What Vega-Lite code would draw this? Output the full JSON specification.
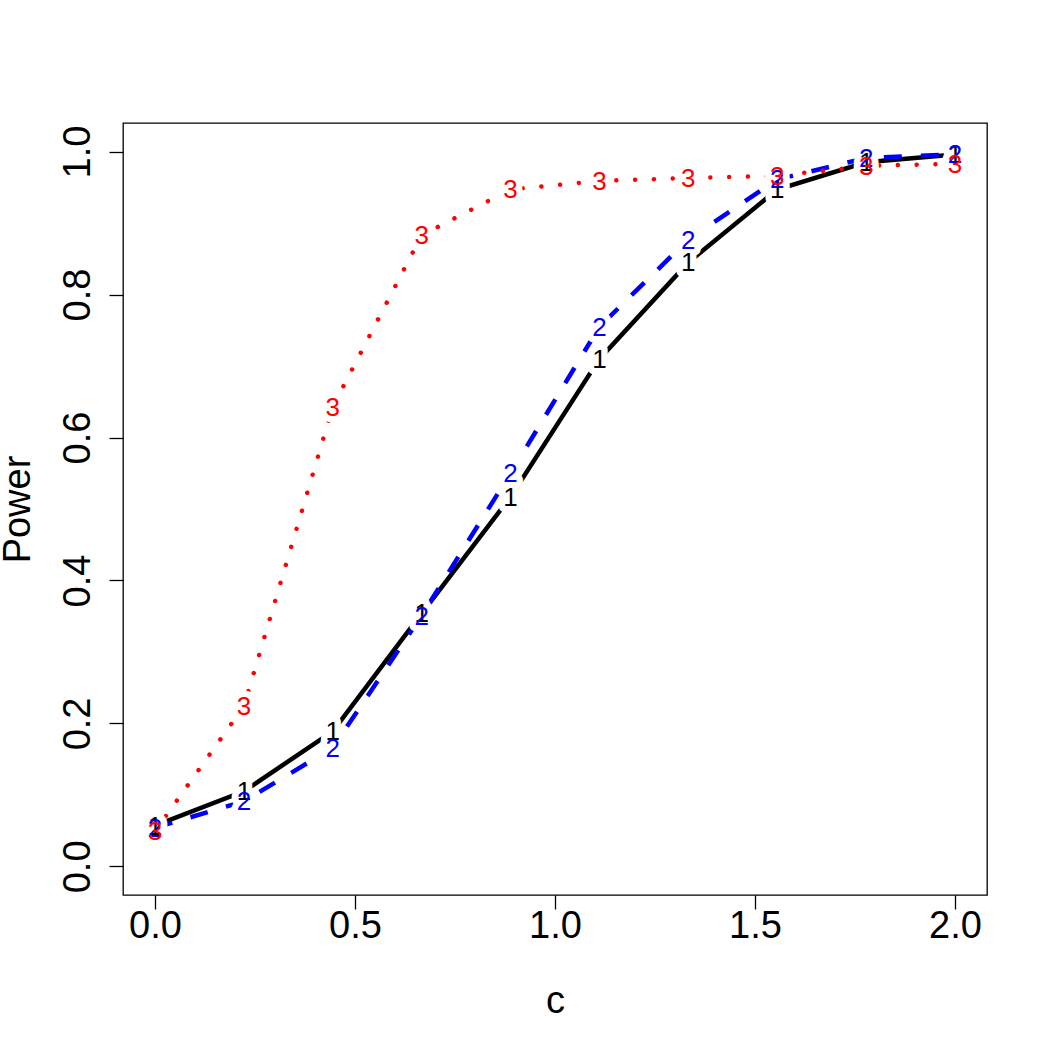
{
  "$schema": "https://vega.github.io/schema/vega-lite/v6.json",
  "width": 864,
  "height": 772,
  "autosize": {"type": "none"},
  "padding": {"left": 123, "top": 123, "right": 63, "bottom": 155},
  "background": "white",
  "config": {
    "view": {"stroke": "black", "strokeWidth": 1.3},
    "axis": {
      "domain": false,
      "grid": false,
      "tickColor": "black",
      "tickWidth": 1.3,
      "tickSize": 14,
      "labelColor": "black",
      "labelFont": "Liberation Sans",
      "labelFontSize": 38,
      "titleFont": "Liberation Sans",
      "titleFontSize": 38,
      "titleFontWeight": "normal",
      "titleColor": "black"
    }
  },
  "data": {
    "values": [
      {"c": 0, "power": 0.057, "series": "1"},
      {"c": 0.2222, "power": 0.105, "series": "1"},
      {"c": 0.4444, "power": 0.189, "series": "1"},
      {"c": 0.6667, "power": 0.354, "series": "1"},
      {"c": 0.8889, "power": 0.517, "series": "1"},
      {"c": 1.1111, "power": 0.710, "series": "1"},
      {"c": 1.3333, "power": 0.845, "series": "1"},
      {"c": 1.5556, "power": 0.947, "series": "1"},
      {"c": 1.7778, "power": 0.985, "series": "1"},
      {"c": 2.0, "power": 0.996, "series": "1"},
      {"c": 0, "power": 0.054, "series": "2"},
      {"c": 0.2222, "power": 0.091, "series": "2"},
      {"c": 0.4444, "power": 0.166, "series": "2"},
      {"c": 0.6667, "power": 0.351, "series": "2"},
      {"c": 0.8889, "power": 0.550, "series": "2"},
      {"c": 1.1111, "power": 0.755, "series": "2"},
      {"c": 1.3333, "power": 0.877, "series": "2"},
      {"c": 1.5556, "power": 0.961, "series": "2"},
      {"c": 1.7778, "power": 0.991, "series": "2"},
      {"c": 2.0, "power": 0.996, "series": "2"},
      {"c": 0, "power": 0.049, "series": "3"},
      {"c": 0.2222, "power": 0.224, "series": "3"},
      {"c": 0.4444, "power": 0.643, "series": "3"},
      {"c": 0.6667, "power": 0.883, "series": "3"},
      {"c": 0.8889, "power": 0.947, "series": "3"},
      {"c": 1.1111, "power": 0.959, "series": "3"},
      {"c": 1.3333, "power": 0.963, "series": "3"},
      {"c": 1.5556, "power": 0.966, "series": "3"},
      {"c": 1.7778, "power": 0.980, "series": "3"},
      {"c": 2.0, "power": 0.983, "series": "3"}
    ]
  },
  "encoding": {
    "x": {
      "field": "c",
      "type": "quantitative",
      "scale": {"domain": [-0.08, 2.08], "nice": false, "zero": false},
      "axis": {
        "values": [0, 0.5, 1, 1.5, 2],
        "format": ".1f",
        "title": "c",
        "labelBaseline": "alphabetic",
        "labelPadding": 28,
        "titleBaseline": "alphabetic",
        "titleAlign": "center",
        "titleX": 432,
        "titleY": 117
      }
    },
    "y": {
      "field": "power",
      "type": "quantitative",
      "scale": {"domain": [-0.04, 1.04], "nice": false, "zero": false},
      "axis": {
        "values": [0, 0.2, 0.4, 0.6, 0.8, 1.0],
        "format": ".1f",
        "title": "Power",
        "labelAngle": -90,
        "labelAlign": "center",
        "labelBaseline": "alphabetic",
        "labelPadding": 20,
        "titleAngle": -90,
        "titleBaseline": "alphabetic",
        "titleAlign": "center",
        "titleX": -94,
        "titleY": 386
      }
    }
  },
  "layer": [
    {
      "transform": [{"filter": "datum.series == '1'"}],
      "mark": {"type": "line", "color": "#000000", "strokeWidth": 4.5, "strokeCap": "butt"}
    },
    {
      "transform": [{"filter": "datum.series == '2'"}],
      "mark": {"type": "line", "color": "#0000FF", "strokeWidth": 4.5, "strokeDash": [18, 19], "strokeCap": "butt"}
    },
    {
      "transform": [{"filter": "datum.series == '3'"}],
      "mark": {"type": "line", "color": "#FF0000", "strokeWidth": 4.5, "strokeDash": [0.01, 18.8], "strokeCap": "round"}
    },
    {
      "mark": {"type": "text", "fill": "white", "stroke": "white", "strokeWidth": 13, "strokeJoin": "round", "font": "Liberation Sans", "fontSize": 26, "baseline": "middle", "align": "center", "dy": 1},
      "encoding": {"text": {"field": "series"}}
    },
    {
      "transform": [{"filter": "datum.series == '1'"}],
      "mark": {"type": "text", "color": "#000000", "font": "Liberation Sans", "fontSize": 26, "baseline": "middle", "align": "center", "dy": 1},
      "encoding": {"text": {"field": "series"}}
    },
    {
      "transform": [{"filter": "datum.series == '2'"}],
      "mark": {"type": "text", "color": "#0000FF", "font": "Liberation Sans", "fontSize": 26, "baseline": "middle", "align": "center", "dy": 1},
      "encoding": {"text": {"field": "series"}}
    },
    {
      "transform": [{"filter": "datum.series == '3'"}],
      "mark": {"type": "text", "color": "#FF0000", "font": "Liberation Sans", "fontSize": 26, "baseline": "middle", "align": "center", "dy": 1},
      "encoding": {"text": {"field": "series"}}
    }
  ]
}
